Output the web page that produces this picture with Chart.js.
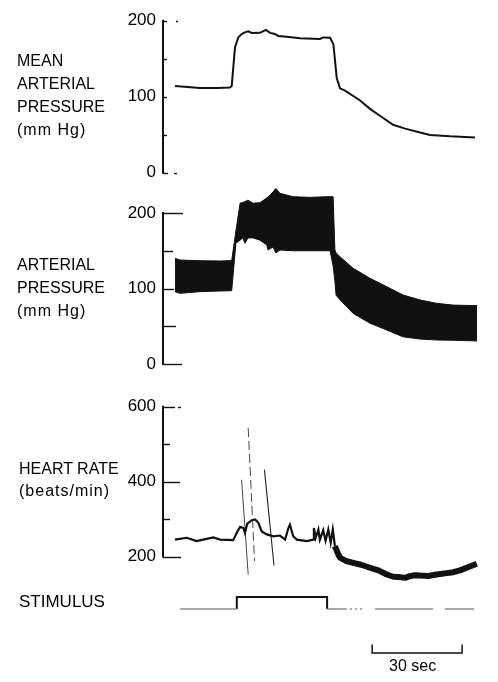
<!DOCTYPE html>
<html>
<head>
<meta charset="utf-8">
<title>Stimulus response traces</title>
<script src="https://cdn.jsdelivr.net/npm/chart.js@4.4.1/dist/chart.umd.min.js"></script>
<style>
  body { margin: 0; background: #fff; }
  #page { position: relative; width: 498px; height: 682px; overflow: hidden;
          font-family: "Liberation Sans", Arial, sans-serif; color: #000; }
  canvas { position: absolute; left: 0; }
  .label { position: absolute; font-size: 16px; white-space: nowrap; }
  .unit { letter-spacing: 1px; }
</style>
</head>
<body>
<div id="page">
  <canvas id="mapChart" width="498" height="200" style="top:0px"></canvas>
  <canvas id="apChart" width="498" height="220" style="top:165px"></canvas>
  <canvas id="hrChart" width="498" height="220" style="top:385px"></canvas>
  <canvas id="stimChart" width="498" height="97" style="top:585px"></canvas>

  <div class="label" style="left:17px; top:49px; line-height:23px">MEAN<br>ARTERIAL<br>PRESSURE<br><span class="unit">(mm Hg)</span></div>
  <div class="label" style="left:17px; top:253px; line-height:23px">ARTERIAL<br>PRESSURE<br><span class="unit">(mm Hg)</span></div>
  <div class="label" style="left:19px; top:458px; line-height:22px">HEART RATE<br><span class="unit">(beats/min)</span></div>
  <div class="label" style="left:19px; top:593px; font-size:17px; line-height:17px">STIMULUS</div>
  <div class="label" style="left:389px; top:658px; line-height:16px">30 sec</div>
</div>

<script>
// --- DATA (time in seconds from start of trace) ---

// mean arterial pressure, mm Hg
const mapTime  = [0, 8.3, 14, 18.3, 18.9, 20, 21.1, 22.2, 23.3, 24.4, 25.6, 28.3, 30.3, 31.7, 33.3, 34.4, 37.2, 41.7, 46.1, 48.3,
                  49.4, 51.7, 52.8, 53.9, 55, 56.7, 61.7, 65, 68.3, 72.7, 76.7, 81.7, 85, 91.7, 100];
const mapValue = [114, 111.4, 111.4, 112, 114, 165, 178, 182.5, 184.6, 186, 183.8, 184, 188, 184, 182.5, 180, 179, 177, 176.3, 176,
                  178, 177.6, 169, 125, 111, 108, 95, 84, 75, 63, 58, 53, 49.6, 47.8, 46.4];

// pulsatile arterial pressure envelope, mm Hg
const apTime = [0, 1.7, 8.3, 15, 18.9, 20.3, 21.7, 22.6, 23.3, 24.3, 26, 28.3, 30.6, 31, 32.7, 33.6, 35, 39.3, 45, 50.6,
                51.7, 52.7, 53.3, 53.7, 55, 59.4, 65, 70.6, 76, 81.7, 87.2, 92.7, 100.7];
const apSystolic  = [140, 137.7, 136.8, 136.4, 137, 176, 213, 214, 215, 217, 213, 213.6, 220, 221, 228, 232.6, 226, 221.6, 220.7, 221.6,
                     221.6, 221.6, 151, 147, 142, 126.7, 113.5, 102.4, 91.4, 84.8, 80.4, 78, 77.3];
const apDiastolic = [95.8, 93.6, 95.8, 96.7, 97, 160, 164, 167, 160, 167, 167, 164, 157.6, 151, 155, 147, 151, 150, 150, 150,
                     150, 130, 110, 91, 85, 67, 54, 45, 36, 33, 31.8, 31.5, 30.5];

// heart rate, beats/min
const hrTime  = [0, 3.9, 7.2, 9.4, 12.8, 15, 19.4, 20.8, 21.7, 22.8, 23.3, 24.1, 25.6, 26.7, 27.8, 28.9, 30.6, 32.8, 35, 36.7,
                 37.8, 38.3, 39.4, 40.6, 43.9, 46.1, 46.3, 46.9, 47.8, 48.3, 49.4, 50.2, 51.1, 51.9, 52.6, 53.3];
const hrValue = [245, 250, 241, 245, 251, 245, 243.5, 267, 279, 276, 263, 288, 297, 299, 290, 267, 259, 254, 256, 245,
                 276, 285, 254, 245, 241, 245, 276, 250, 272, 245, 270, 242, 272, 237, 272, 228];
const hrPostTime  = [53.3, 54.4, 55, 57, 59.4, 62, 65, 67.8, 70.6, 72.8, 75, 76.7, 78.3, 80, 81.7, 84.4, 87.2, 90, 92.8, 95, 97.2, 100.6];
const hrPostValue = [228, 206, 197, 188, 183, 178, 170, 163, 152, 146, 145, 143, 147.5, 150, 149, 148, 152, 155, 158, 163, 170, 180.5];

// pen artefacts crossing the heart-rate trace
const artATime = [22.2, 24.4], artAValue = [405, 152];
const artBTime = [24.4, 26.5], artBValue = [543, 188];
const artCTime = [29.8, 33.0], artCValue = [432, 176];

// stimulus marker (1 = on); null marks a break in the printed line
const stimBaseTime  = [1.7, 20.6, 20.65, 50.7, 57.3, 57.5, 58.3, 63.3, 63.5, 66.7, 86, 86.5, 90, 99.7];
const stimBaseLevel = [0, 0, null, 0, 0, null, 0, 0, null, 0, 0, null, 0, 0];
const stimPulseTime  = [20.6, 20.6, 50.7, 50.7];
const stimPulseLevel = [0, 1, 1, 0];

const scaleBarStart = 65.7, scaleBarSeconds = 30;

// axis ticks
const mapTicks = [0, 50, 100, 150, 200], mapLabels = [0, 100, 200];
const apTicks  = [0, 50, 100, 150, 200], apLabels  = [0, 100, 200];
const hrTicks  = [200, 300, 400, 500, 600], hrLabels = [200, 400, 600];

// --- LAYOUT ---
const X_MIN = -4, X_MAX = 101.667;
const AXIS_X = 163, PAD_RIGHT = 18, PAD_V = 18;

// y range so that value v0 lands at page y0 and v1 at page y1
function fitRange(v0, y0, v1, y1, areaTop, areaBottom) {
    const k = (y0 - y1) / (v1 - v0);
    return { min: v0 - (areaBottom - y0) / k, max: v1 + (y1 - areaTop) / k };
}

const pts = (xs, ys) => xs.map((x, i) => ({ x: x, y: ys[i] }));

Chart.defaults.font.family = '"Liberation Sans", Arial, sans-serif';
Chart.defaults.color = '#000';

// vertical recorder axis with ticks pointing into the trace
const recorderAxis = {
    id: 'recorderAxis',
    afterDraw(chart, args, opts) {
        if (!opts.ticks) return;
        const { ctx, chartArea } = chart;
        const ys = chart.scales.y;
        const x0 = chartArea.left;
        const first = opts.ticks[0], last = opts.ticks[opts.ticks.length - 1];
        ctx.save();
        ctx.strokeStyle = '#111';
        ctx.lineWidth = 2;
        ctx.beginPath();
        ctx.moveTo(x0, ys.getPixelForValue(last) - 1);
        ctx.lineTo(x0, ys.getPixelForValue(first) + 1);
        ctx.stroke();
        ctx.lineWidth = 1.4;
        opts.ticks.forEach((v, i) => {
            const py = Math.round(ys.getPixelForValue(v)) + 0.5;
            ctx.beginPath();
            ctx.moveTo(x0, py);
            ctx.lineTo(x0 + opts.lengths[i], py);
            ctx.stroke();
            const d = opts.dashes && opts.dashes[i];
            if (d) {
                ctx.beginPath();
                ctx.moveTo(x0 + d[0], py);
                ctx.lineTo(x0 + d[1], py);
                ctx.stroke();
            }
        });
        ctx.restore();
    }
};

function traceOptions(range, ticks, labels, axisOpts) {
    return {
        responsive: false,
        animation: false,
        events: [],
        layout: { padding: { left: 0, right: PAD_RIGHT, top: PAD_V, bottom: PAD_V } },
        plugins: { legend: { display: false }, tooltip: { enabled: false }, recorderAxis: axisOpts },
        elements: { point: { radius: 0 }, line: { tension: 0, borderColor: '#111', borderCapStyle: 'butt' } },
        scales: {
            x: { type: 'linear', min: X_MIN, max: X_MAX, display: false },
            y: {
                type: 'linear', min: range.min, max: range.max,
                afterFit: s => { s.width = AXIS_X; },
                afterBuildTicks: s => { s.ticks = ticks.map(v => ({ value: v })); },
                grid: { display: false, drawTicks: false },
                border: { display: false },
                ticks: {
                    padding: 7, autoSkip: false, color: '#000', font: { size: 17 },
                    callback: v => labels.includes(v) ? String(v) : ''
                }
            }
        }
    };
}

// --- CHARTS ---
new Chart(document.getElementById('mapChart'), {
    type: 'line',
    data: { datasets: [{ data: pts(mapTime, mapValue), borderWidth: 2 }] },
    options: traceOptions(fitRange(0, 172.7, 200, 20.7, 0 + PAD_V, 200 - PAD_V), mapTicks, mapLabels,
        { ticks: mapTicks, lengths: [5, 4, 4, 4, 4], dashes: [[11, 14], null, null, null, [13, 15]] }),
    plugins: [recorderAxis]
});

new Chart(document.getElementById('apChart'), {
    type: 'line',
    data: {
        datasets: [
            { data: pts(apTime, apDiastolic), borderWidth: 1, fill: false },
            { data: pts(apTime, apSystolic), borderWidth: 1, fill: '-1', backgroundColor: '#111' }
        ]
    },
    options: traceOptions(fitRange(0, 364 - 165, 200, 213 - 165, PAD_V, 220 - PAD_V), apTicks, apLabels,
        { ticks: apTicks, lengths: [19, 13, 11, 10, 20] }),
    plugins: [recorderAxis]
});

new Chart(document.getElementById('hrChart'), {
    type: 'line',
    data: {
        datasets: [
            { data: pts(hrTime, hrValue), borderWidth: 2.2 },
            { data: pts(hrPostTime, hrPostValue), borderWidth: 6, borderJoinStyle: 'round' },
            { data: pts(artATime, artAValue), borderWidth: 0.9, borderColor: '#333' },
            { data: pts(artBTime, artBValue), borderWidth: 0.9, borderColor: '#333', borderDash: [9, 4] },
            { data: pts(artCTime, artCValue), borderWidth: 1.1, borderColor: '#222' }
        ]
    },
    options: traceOptions(fitRange(200, 556.5 - 385, 600, 406.7 - 385, PAD_V, 220 - PAD_V), hrTicks, hrLabels,
        { ticks: hrTicks, lengths: [18, 7, 17, 7, 12], dashes: [null, null, null, null, [15, 18]] }),
    plugins: [recorderAxis]
});

// stimulus marker and time scale bar share one panel (level units)
const stimRange = fitRange(0, 609 - 585, 1, 597 - 585, 2, 95);
const barLevel = stimRange.min + (95 - (653 - 585)) / 12;
const barTick = barLevel + 0.7;
new Chart(document.getElementById('stimChart'), {
    type: 'line',
    data: {
        datasets: [
            { data: pts(stimBaseTime, stimBaseLevel), borderWidth: 1.5, borderColor: '#8c8c8c', spanGaps: false,
              segment: { borderDash: c => (c.p0.parsed.x >= 58 && c.p1.parsed.x <= 64) ? [2, 3] : undefined } },
            { data: pts(stimPulseTime, stimPulseLevel), borderWidth: 2, borderColor: '#111' },
            { data: pts([scaleBarStart, scaleBarStart, scaleBarStart + scaleBarSeconds, scaleBarStart + scaleBarSeconds],
                        [barTick, barLevel, barLevel, barTick]), borderWidth: 1.5, borderColor: '#111' }
        ]
    },
    options: {
        responsive: false,
        animation: false,
        events: [],
        layout: { padding: { left: AXIS_X, right: PAD_RIGHT, top: 2, bottom: 2 } },
        plugins: { legend: { display: false }, tooltip: { enabled: false } },
        elements: { point: { radius: 0 }, line: { tension: 0, borderCapStyle: 'butt' } },
        scales: {
            x: { type: 'linear', min: X_MIN, max: X_MAX, display: false },
            y: { type: 'linear', min: stimRange.min, max: stimRange.max, display: false }
        }
    }
});
</script>
</body>
</html>
